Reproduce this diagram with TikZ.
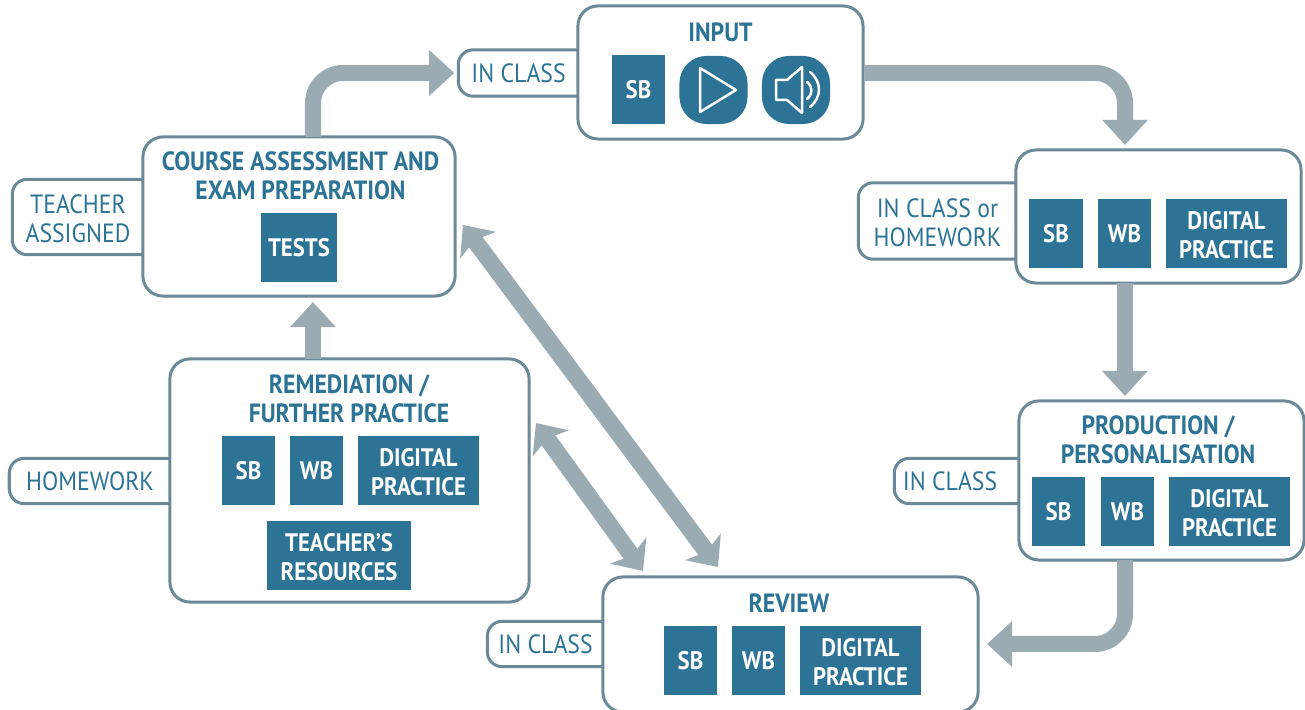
\documentclass[tikz,border=0pt]{standalone}
\usepackage{fontspec}
\setmainfont[FakeStretch=0.9]{PT Sans}
\usetikzlibrary{arrows.meta}
\definecolor{itemblue}{HTML}{2C7396}
\definecolor{edgegrey}{HTML}{6C8997}
\definecolor{flowgrey}{HTML}{9AABB2}
\newcommand{\lowtext}{\rule{0pt}{6.2pt}}
\tikzset{
	bigbox/.style={draw=edgegrey, fill=white, line width=0.03cm, rounded corners=0.2cm, inner sep=0},
	tagbox/.style={text=itemblue, inner sep=0, align=center, font=\fontsize{7.5}{8.3}\selectfont},
	tagedge/.style={draw=edgegrey, line width=0.03cm, rounded corners=0.15cm},
	titlebox/.style={text=itemblue, inner sep=0, align=center, font=\fontsize{7.5}{8.3}\selectfont\bfseries},
	itembox/.style={fill=itemblue, text=white, inner sep=0, align=center, font=\fontsize{7.2}{8.3}\selectfont\bfseries},
	iconbox/.style={fill=itemblue, rounded corners=0.27cm, inner sep=0, minimum width=0.68cm, minimum height=0.68cm},
	iconline/.style={draw=white, line width=0.025cm, line join=round, line cap=round},
	flow/.style={draw=flowgrey, line width=0.16cm, rounded corners=0.3cm, -{Triangle[length=0.25cm,width=0.44cm]}},
	flowboth/.style={draw=flowgrey, line width=0.17cm, {Stealth[length=0.25cm,width=0.44cm,inset=0.06cm]}-{Stealth[length=0.25cm,width=0.44cm,inset=0.06cm]}},
}
\begin{document}
\begin{tikzpicture}[x=0.01cm, y=-0.01cm]
	\useasboundingbox (0,0) rectangle (1305,710);

	% Tags at the side of the boxes
	\node[tagbox, minimum width=1.19cm, minimum height=0.45cm] (taginput) at (518.5,73) {IN CLASS};
	\node[tagbox, minimum width=1.57cm, minimum height=0.75cm] (tagpractice) at (937.5,221) {\lowtext IN CLASS or\\HOMEWORK};
	\node[tagbox, minimum width=1.24cm, minimum height=0.44cm] (tagproduction) at (957,481) {IN CLASS\hspace{0.14cm}};
	\node[tagbox, minimum width=1.15cm, minimum height=0.44cm] (tagreview) at (545.5,644) {IN CLASS};
	\node[tagbox, minimum width=1.60cm, minimum height=0.44cm] (tagremedy) at (90,481) {HOMEWORK};
	\node[tagbox, minimum width=1.30cm, minimum height=0.74cm] (tagcourse) at (78,217) {\lowtext TEACHER\\ASSIGNED};
	\foreach \t in {taginput,tagpractice,tagproduction,tagreview,tagremedy,tagcourse}
	\draw[tagedge] (\t.north east) -- (\t.north west) -- (\t.south west) -- (\t.south east);

	% Main boxes
	\node[bigbox, minimum width=2.85cm, minimum height=1.33cm] (input) at (720.5,72.5) {};
	\node[bigbox, minimum width=2.85cm, minimum height=1.33cm] (practice) at (1158.5,216.5) {};
	\node[bigbox, minimum width=2.85cm, minimum height=1.59cm] (production) at (1161.5,480.5) {};
	\node[bigbox, minimum width=3.75cm, minimum height=1.35cm] (review) at (790.5,644.5) {};
	\node[bigbox, minimum width=3.59cm, minimum height=2.43cm] (remedy) at (349.5,480.5) {};
	\node[bigbox, minimum width=3.12cm, minimum height=1.59cm] (course) at (299,216.5) {};

	% Titles
	\node[titlebox] (inputtitle) at (720.5,32) {INPUT};
	\node[titlebox] (productiontitle) at (1158,440) {PRODUCTION /\\PERSONALISATION};
	\node[titlebox] (reviewtitle) at (789,603) {REVIEW};
	\node[titlebox] (remedytitle) at (349,399) {REMEDIATION /\\FURTHER PRACTICE};
	\node[titlebox] (coursetitle) at (300.5,175.5) {COURSE ASSESSMENT AND\\EXAM PREPARATION};

	% Items in the boxes
	\tikzset{small/.style={itembox, minimum width=0.53cm, minimum height=0.69cm},
		wide/.style={itembox, minimum width=1.21cm, minimum height=0.69cm}}
	\node[small] (inputsb) at (638.5,89.5) {SB};
	\node[iconbox] (playicon) at (713.5,90) {};
	\node[iconbox] (soundicon) at (796,90) {};
	\draw[iconline] (700,68) -- (736,90) -- (700,112) -- cycle;
	\draw[iconline] (776,80) -- (787,80) -- (802,67) -- (802,113) -- (787,100) -- (776,100) -- cycle;
	\draw[iconline] (807,82) .. controls (813,87) and (813,94) .. (807,99);
	\draw[iconline] (810,72) .. controls (822,82) and (822,97) .. (810,107);

	\node[small] (practicesb) at (1056,233.5) {SB};
	\node[small] (practicewb) at (1124.5,233.5) {WB};
	\node[wide] (practicedp) at (1226.5,233.5) {\lowtext DIGITAL\\PRACTICE};

	\node[small] (productionsb) at (1058.5,511.5) {SB};
	\node[small] (productionwb) at (1127.5,511.5) {WB};
	\node[wide] (productiondp) at (1229.5,511.5) {\lowtext DIGITAL\\PRACTICE};

	\node[small] (reviewsb) at (690.5,660.5) {SB};
	\node[small] (reviewwb) at (758.5,660.5) {WB};
	\node[wide] (reviewdp) at (860.5,660.5) {\lowtext DIGITAL\\PRACTICE};

	\node[small] (remedysb) at (248.5,470.5) {SB};
	\node[small] (remedywb) at (316.5,470.5) {WB};
	\node[wide] (remedydp) at (418.5,470.5) {\lowtext DIGITAL\\PRACTICE};
	\node[itembox, minimum width=1.44cm, minimum height=0.69cm] (remedytr) at (339,555.5) {\lowtext TEACHER’S\\RESOURCES};

	\node[itembox, minimum width=0.76cm, minimum height=0.69cm] (coursetests) at (299,247.5) {TESTS};

	% Arrows between the boxes
	\coordinate (courseout) at (313,137);
	\coordinate (practicein) at (1125,145);
	\coordinate (practiceout) at (1125,283);
	\coordinate (productionin) at (1125,396);
	\coordinate (productionout) at (1125,560);
	\coordinate (reviewin) at (987,644);
	\coordinate (remedyout) at (313,359);
	\coordinate (courseup) at (313,302);
	\coordinate (coursecorner) at (463,225);
	\coordinate (reviewfar) at (718,567);
	\coordinate (remedycorner) at (536,423);
	\coordinate (reviewnear) at (643,571);

	\draw[flow, shorten >=0.04cm] (courseout) |- (taginput.west);
	\draw[flow] (input.east |- taginput) -| (practicein);
	\draw[flow] (practiceout) -- (productionin);
	\draw[flow] (productionout) |- (reviewin);
	\draw[flow] (remedyout) -- (courseup);
	\draw[flowboth] (coursecorner) -- (reviewfar);
	\draw[flowboth] (remedycorner) -- (reviewnear);
\end{tikzpicture}
\end{document}
